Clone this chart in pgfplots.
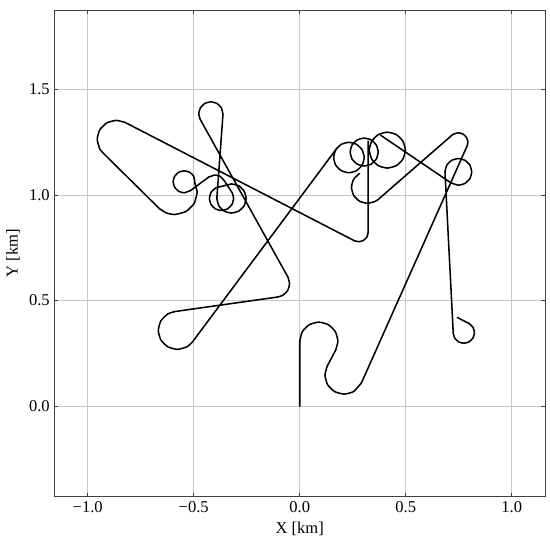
\documentclass[border=0pt]{standalone}
\usepackage{fontspec}
\setmainfont{Liberation Serif}
\usepackage{pgfplots}
\pgfplotsset{compat=1.18}
\pgfplotsset{trk/.style={black, solid, line width=1.15pt, line join=round, line cap=round, mark=none},
  arc/.style={trk, smooth, tension=0.35}}
\begin{document}
\begin{tikzpicture}
\begin{axis}[
 scale only axis, width=368pt, height=365pt,
 xmin=-1.157, xmax=1.157, ymin=-0.429, ymax=1.877,
 xtick={-1,-0.5,0,0.5,1}, xticklabels={−1.0,−0.5,0.0,0.5,1.0},
 ytick={0,0.5,1,1.5}, yticklabels={0.0,0.5,1.0,1.5},
 grid=major, grid style={black!22, line width=0.6pt},
 axis line style={black!75, line width=0.6pt},
 tick align=inside, major tick length=3pt, tick style={black!75, line width=0.6pt},
 xlabel={X [km]}, ylabel={Y [km]},
 tick label style={font=\fontsize{12.4}{14}\selectfont},
 label style={font=\fontsize{12.4}{14}\selectfont},
 unbounded coords=jump,
]
% straight legs of the track
\addplot[trk] coordinates {
 (0,0) (0,0.308) (nan,nan)
 (0.1697,0.2662) (0.1293,0.1888) (nan,nan)
 (0.291,0.110) (0.789,1.232) (nan,nan)
 (0.717,1.283) (0.372,0.981) (nan,nan)
 (0.323,1.255) (0.323,0.824) (nan,nan)
 (0.257,0.784) (-0.823,1.344) (nan,nan)
 (-0.925,1.197) (-0.661,0.935) (nan,nan)
 (-0.483,1.015) (-0.494,1.054) (nan,nan)
 (-0.514,1.022) (-0.430,1.085) (nan,nan)
 (-0.3555,1.0677) (-0.318,1.010) (nan,nan)
 (-0.369,1.041) (-0.322,1.053) (nan,nan)
 (-0.391,0.984) (-0.362,1.382) (nan,nan)
 (-0.469,1.358) (-0.056,0.612) (nan,nan)
 (-0.104,0.517) (-0.590,0.448) (nan,nan)
 (-0.506,0.304) (0.176,1.223) (nan,nan)
 (0.381,1.284) (0.713,1.058) (nan,nan)
 (0.685,1.110) (0.724,0.3455) (nan,nan)
 (0.799,0.3913) (0.743,0.42)};
% turns
\addplot[arc] coordinates {(0,0.308) (0.0121,0.353) (0.045,0.3859) (0.09,0.398) (0.135,0.3859) (0.1679,0.353) (0.18,0.308) (0.1697,0.2662)};
\addplot[arc] coordinates {(0.1293,0.1888) (0.119,0.147) (0.1311,0.102) (0.164,0.0691) (0.209,0.057) (0.254,0.0691) (0.291,0.110)};
\addplot[arc] coordinates {(0.789,1.232) (0.793,1.25) (0.787,1.2725) (0.7705,1.289) (0.748,1.295) (0.7255,1.289) (0.717,1.283)};
\addplot[arc] coordinates {(0.372,0.981) (0.358,0.971) (0.32,0.961) (0.282,0.971) (0.2542,0.999) (0.244,1.037) (0.2542,1.075) (0.282,1.1028)};
\addplot[arc] coordinates {(0.323,0.824) (0.317,0.8015) (0.3005,0.785) (0.278,0.779) (0.257,0.784)};
\addplot[arc] coordinates {(-0.823,1.344) (-0.865,1.354) (-0.91,1.342) (-0.943,1.309) (-0.955,1.264) (-0.943,1.219) (-0.925,1.197)};
\addplot[arc] coordinates {(-0.661,0.935) (-0.6266,0.9145) (-0.59,0.908) (-0.5365,0.9223) (-0.4973,0.9615) (-0.483,1.015)};
\addplot[arc] coordinates {(-0.494,1.054) (-0.500,1.089) (-0.519,1.108) (-0.545,1.115) (-0.571,1.108) (-0.590,1.089) (-0.597,1.063) (-0.590,1.037) (-0.571,1.018) (-0.545,1.011) (-0.514,1.022)};
\addplot[arc] coordinates {(-0.430,1.085) (-0.40,1.095) (-0.375,1.0883) (-0.3555,1.0677)};
\addplot[arc] coordinates {(-0.318,1.010) (-0.312,0.984) (-0.3196,0.9555) (-0.3405,0.9346) (-0.369,0.927) (-0.3975,0.9346) (-0.4184,0.9555) (-0.426,0.984) (-0.4184,1.0125) (-0.3975,1.0334) (-0.369,1.041)};
\addplot[arc] coordinates {(-0.322,1.053) (-0.2875,1.0438) (-0.2622,1.0185) (-0.253,0.984) (-0.2622,0.9495) (-0.2875,0.9242) (-0.322,0.915) (-0.3565,0.9242) (-0.3818,0.9495) (-0.391,0.984)};
\addplot[arc] coordinates {(-0.362,1.382) (-0.3696,1.4135) (-0.3905,1.4344) (-0.419,1.442) (-0.4475,1.4344) (-0.4684,1.4135) (-0.476,1.385) (-0.469,1.358)};
\addplot[arc] coordinates {(-0.056,0.612) (-0.048,0.581) (-0.0567,0.5485) (-0.0805,0.5247) (-0.104,0.517)};
\addplot[arc] coordinates {(-0.590,0.448) (-0.622,0.437) (-0.655,0.404) (-0.667,0.359) (-0.655,0.314) (-0.622,0.281) (-0.577,0.269) (-0.532,0.281) (-0.506,0.304)};
% full loops in the upper-middle cluster
\addplot[arc, smooth cycle] coordinates {(0.304,1.178) (0.2944,1.142) (0.268,1.1156) (0.232,1.106) (0.196,1.1156) (0.1696,1.142) (0.160,1.178) (0.1696,1.214) (0.196,1.2404) (0.232,1.250) (0.268,1.2404) (0.2944,1.214)};
\addplot[arc, smooth cycle] coordinates {(0.370,1.204) (0.3612,1.237) (0.337,1.2612) (0.304,1.270) (0.271,1.2612) (0.2468,1.237) (0.238,1.204) (0.2468,1.171) (0.271,1.1468) (0.304,1.138) (0.337,1.1468) (0.3612,1.171)};
\addplot[arc, smooth cycle] coordinates {(0.498,1.213) (0.4866,1.2555) (0.4555,1.2866) (0.413,1.298) (0.3705,1.2866) (0.3394,1.2555) (0.328,1.213) (0.3394,1.1705) (0.3705,1.1394) (0.413,1.128) (0.4555,1.1394) (0.4866,1.1705)};
% loop on the right and final hook
\addplot[arc] coordinates {(0.713,1.058) (0.748,1.047) (0.7795,1.0554) (0.8026,1.0785) (0.811,1.110) (0.8026,1.1415) (0.7795,1.1646) (0.748,1.173) (0.7165,1.1646) (0.6934,1.1415) (0.685,1.110)};
\addplot[arc] coordinates {(0.724,0.3455) (0.7307,0.323) (0.749,0.3047) (0.774,0.298) (0.799,0.3047) (0.8173,0.323) (0.824,0.348) (0.8173,0.373) (0.799,0.3913)};
\end{axis}
\path ([shift={(-40.8pt,-34.5pt)}]current axis.south west) rectangle ([shift={(3.7pt,7.5pt)}]current axis.north east);
\end{tikzpicture}
\end{document}
